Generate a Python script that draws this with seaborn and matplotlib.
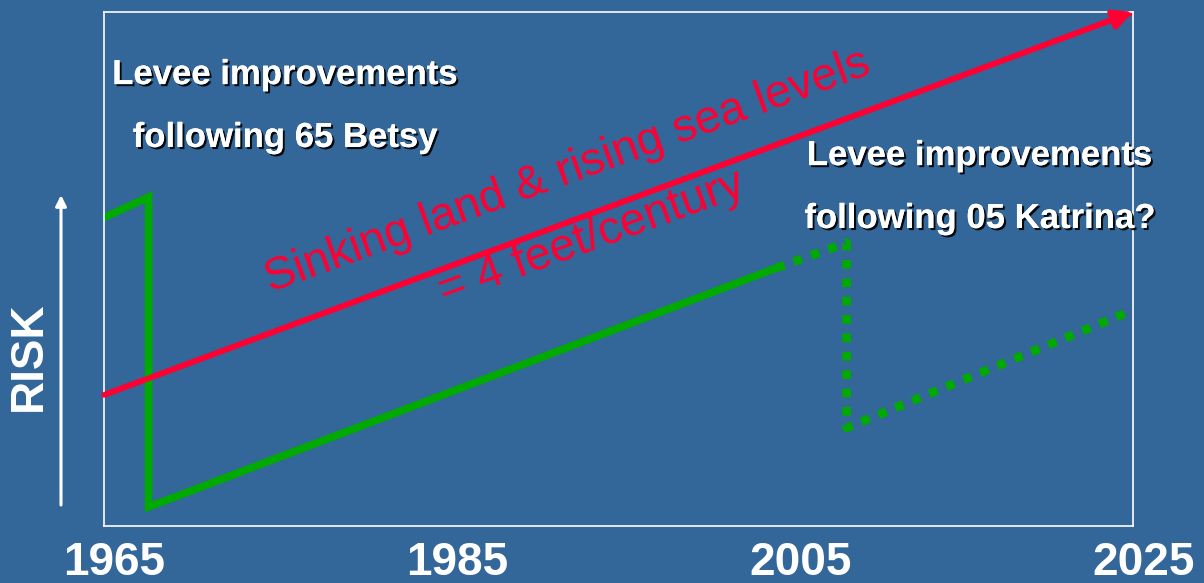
import matplotlib
matplotlib.use("Agg")
import matplotlib.pyplot as plt
import matplotlib.patheffects as pe
from matplotlib.transforms import ScaledTranslation
import pandas as pd
import seaborn as sns

# values (risk is relative, 0..1)
red_years = [1965, 2025]
red_risk = [0.255, 1.0]

solid_years = [1965, 1967.6, 1967.6, 2004.2]
solid_risk = [0.60, 0.64, 0.037, 0.502]

dotted_years = [2004.2, 2008.3, 2008.3, 2025]
dotted_risk = [0.502, 0.551, 0.191, 0.420]

tick_years = [1965, 1985, 2005, 2025]
tick_labels = ["1965", "1985", "2005", "2025"]

BG = "#336699"
RED = "#FF0033"
GREEN = "#00AA00"

sns.set_style("white", {"axes.facecolor": BG, "figure.facecolor": BG,
                        "axes.edgecolor": "white"})
plt.rcParams["font.family"] = ["Liberation Sans", "DejaVu Sans"]

fig = plt.figure(figsize=(12.04, 5.83), dpi=100)
ax = fig.add_axes([0.0864, 0.0978, 0.8547, 0.8816])

red = pd.DataFrame({"year": red_years, "risk": red_risk})
solid = pd.DataFrame({"year": solid_years, "risk": solid_risk})
dotted = pd.DataFrame({"year": dotted_years, "risk": dotted_risk})

sns.lineplot(data=red, x="year", y="risk", color=RED, lw=4, ax=ax,
             estimator=None, sort=False)
ax.annotate("", xy=(red_years[-1], red_risk[-1]),
            xytext=(red_years[0], red_risk[0]),
            arrowprops=dict(arrowstyle="-|>", color=RED, lw=4,
                            mutation_scale=28, shrinkA=0, shrinkB=0),
            annotation_clip=False)

sns.lineplot(data=solid, x="year", y="risk", color=GREEN, lw=5.5, ax=ax,
             estimator=None, sort=False, solid_joinstyle="miter")
sns.lineplot(data=dotted, x="year", y="risk", color=GREEN, lw=6.3, ax=ax,
             estimator=None, sort=False, linestyle=(0, (1.0, 1.1)),
             dash_capstyle="butt")

ax.set_xlim(1965, 2025)
ax.set_ylim(0, 1)
ax.set_xlabel("")
ax.set_ylabel("")
ax.set_yticks([])
ax.set_xticks(tick_years)
ax.set_xticklabels(tick_labels, fontsize=33, fontweight="bold", color="white")
ax.tick_params(axis="x", length=0, pad=11)
shift = ScaledTranslation(0.10, 0, fig.dpi_scale_trans)
for lab in ax.get_xticklabels():
    lab.set_transform(lab.get_transform() + shift)
for sp in ax.spines.values():
    sp.set_color("white")
    sp.set_linewidth(1.2)

shadow = [pe.withSimplePatchShadow(offset=(1.5, -1.5), shadow_rgbFace="black",
                                   alpha=0.9), pe.Normal()]
ax.text(0.176, 0.7374, "Levee improvements\nfollowing 65 Betsy",
        transform=ax.transAxes, ha="center", va="baseline", fontsize=25,
        fontweight="bold", color="white", linespacing=2.15, path_effects=shadow)
ax.text(0.851, 0.5798, "Levee improvements\nfollowing 05 Katrina?",
        transform=ax.transAxes, ha="center", va="baseline", fontsize=25,
        fontweight="bold", color="white", linespacing=2.15, path_effects=shadow,
        clip_on=False)

ax.text(1992.75, 0.624, "Sinking land & rising sea levels\n= 4 feet/century",
        ha="center", va="center", rotation=20, rotation_mode="anchor",
        fontsize=33.5, color=RED, linespacing=1.78)

fig.text(29 / 1204, 1 - 356 / 583, "RISK", rotation=90, ha="center",
         va="center", fontsize=33, fontweight="bold", color="white")
ax.annotate("", xy=(61 / 1204, 1 - 195 / 583), xytext=(61 / 1204, 1 - 505 / 583),
            xycoords="figure fraction", textcoords="figure fraction",
            arrowprops=dict(arrowstyle="-|>", color="white", lw=2.2,
                            mutation_scale=16, shrinkA=0, shrinkB=0))

fig.savefig("out.png", dpi=100, facecolor=BG)
